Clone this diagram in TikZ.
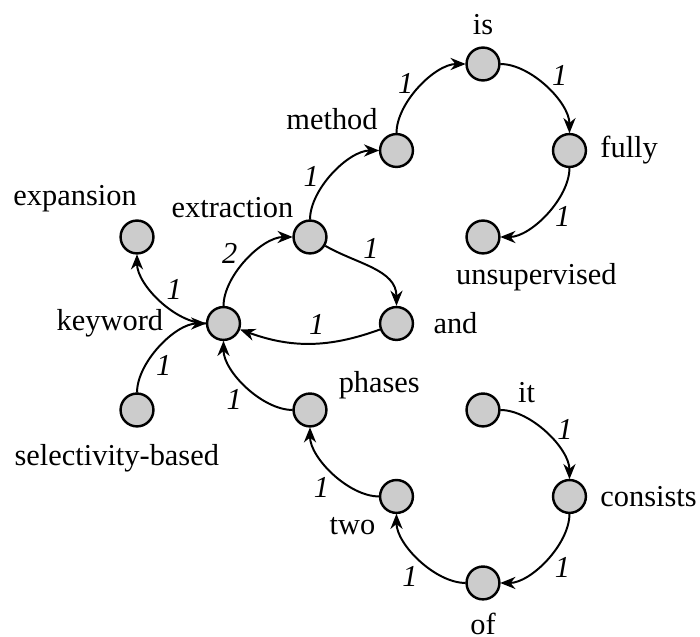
\documentclass[tikz,border=0pt]{standalone}
\usepackage{fontspec}
\setmainfont{Liberation Serif}
\usetikzlibrary{arrows.meta}
\begin{document}
\begin{tikzpicture}[y=-1cm,
  word/.style={circle,draw,line width=0.8pt,fill=gray!40,minimum size=0.38cm,inner sep=0pt},
  wlbl/.style={font=\normalsize},
  wlblc/.style={wlbl,anchor=center,yshift=-1pt},
  edge/.style={line width=0.65pt,-{Stealth[length=5pt,width=4pt]}},
  ring/.style={edge,shorten <=0.2cm,shorten >=0.2cm},
  elbl/.style={font=\itshape,inner sep=2pt}]
\useasboundingbox (-1.584,-0.740) rectangle (6.509,6.624);
\node[word,label={[wlblc,yshift=-0.7pt,label distance=0.67cm]145:expansion}] (expansion) at (0,2) {};
\node[word,label={[wlbl,label distance=0.37cm]left:keyword}] (keyword) at (1,3) {};
\node[word,label={[wlblc,label distance=0.37cm]-114:selectivity-based}] (selectivity) at (0,4) {};
\node[word,label={[wlblc,label distance=0.77cm]157:extraction}] (extraction) at (2,2) {};
\node[word,label={[wlbl,label distance=0.1cm]right:and}] (and) at (3,3) {};
\node[word,label={[wlblc,label distance=0.66cm]22:phases}] (phases) at (2,4) {};
\node[word,label={[wlblc,label distance=0.64cm]152:method}] (method) at (3,1) {};
\node[word,label={[wlbl,label distance=0.01cm]above:is}] (is) at (4,0) {};
\node[word,label={[wlbl,label distance=0.03cm]right:fully}] (fully) at (5,1) {};
\node[word,label={[wlblc,label distance=0.55cm]-35:unsupervised}] (unsupervised) at (4,2) {};
\node[word,label={[wlbl,anchor=center,label distance=0.34cm]22:it}] (it) at (4,4) {};
\node[word,label={[wlbl,label distance=0.03cm]right:consists}] (consists) at (5,5) {};
\node[word,label={[wlbl,label distance=0.02cm]below:of}] (of) at (4,6) {};
\node[word,label={[wlblc,label distance=0.39cm]-149:two}] (two) at (3,5) {};
\draw[ring] (keyword.center) to[out=180,in=270] node[elbl,inner sep=0.5pt,pos=0.48,anchor=226]{1} (expansion.center);
\draw[ring] (selectivity.center) to[out=90,in=180] node[elbl,inner sep=0.5pt,pos=0.4,anchor=145]{1} (keyword.center);
\draw[ring] (keyword.center) to[out=90,in=180] node[elbl,pos=0.45,anchor=318]{2} (extraction.center);
\draw[edge] (extraction) to[out=-30,in=90] node[elbl,inner sep=1pt,pos=0.35,above right]{1} (and);
\draw[edge] (and) to[out=200,in=-20] node[elbl,inner sep=1pt,pos=0.45,above,yshift=1.5pt]{1} (keyword);
\draw[ring] (phases.center) to[out=180,in=270] node[elbl,pos=0.5,anchor=45]{1} (keyword.center);
\draw[ring] (extraction.center) to[out=90,in=180] node[elbl,pos=0.39,anchor=325]{1} (method.center);
\draw[ring] (method.center) to[out=90,in=180] node[elbl,inner sep=1pt,pos=0.45,anchor=317]{1} (is.center);
\draw[ring] (is.center) to[out=0,in=90] node[elbl,pos=0.51,anchor=225]{1} (fully.center);
\draw[ring] (fully.center) to[out=270,in=0] node[elbl,inner sep=1.5pt,pos=0.44,anchor=142]{1} (unsupervised.center);
\draw[ring] (it.center) to[out=0,in=90] node[elbl,pos=0.57,anchor=221]{1} (consists.center);
\draw[ring] (consists.center) to[out=270,in=0] node[elbl,pos=0.46,anchor=138]{1} (of.center);
\draw[ring] (of.center) to[out=180,in=270] node[elbl,pos=0.47,anchor=47]{1} (two.center);
\draw[ring] (two.center) to[out=180,in=270] node[elbl,pos=0.49,anchor=46]{1} (phases.center);
\end{tikzpicture}
\end{document}
